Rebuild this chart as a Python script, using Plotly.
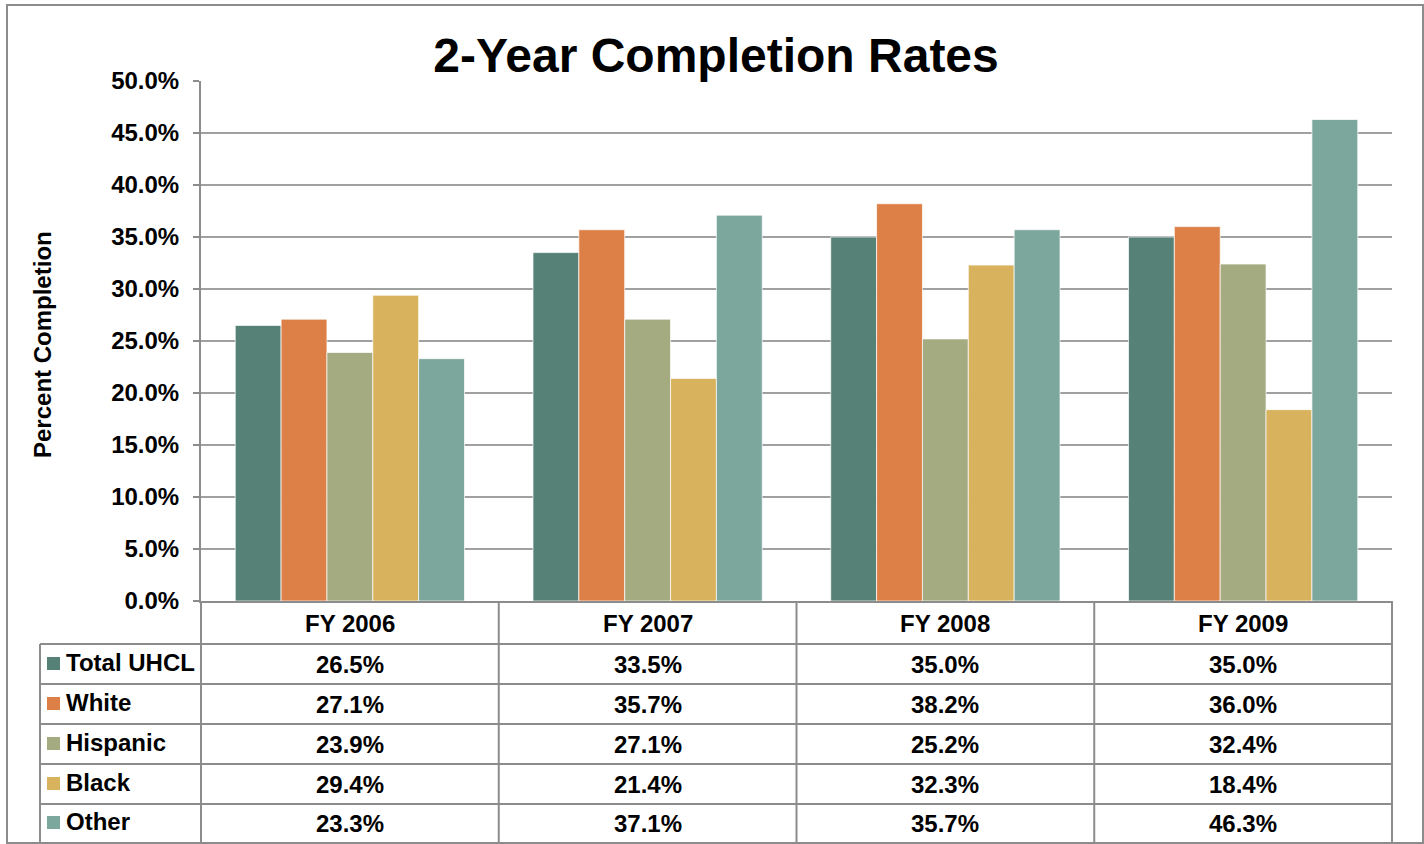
import plotly.graph_objects as go

# ---- data ----
categories = ["FY 2006", "FY 2007", "FY 2008", "FY 2009"]
series_names = ["Total UHCL", "White", "Hispanic", "Black", "Other"]
total_uhcl = [26.5, 33.5, 35.0, 35.0]
white = [27.1, 35.7, 38.2, 36.0]
hispanic = [23.9, 27.1, 25.2, 32.4]
black = [29.4, 21.4, 32.3, 18.4]
other = [23.3, 37.1, 35.7, 46.3]
series_values = [total_uhcl, white, hispanic, black, other]
colors = ["#568176", "#DD8047", "#A5AB81", "#D8B25C", "#7BA79D"]

# ---- layout geometry (pixels) ----
W, H = 1424, 844
PLOT_L, PLOT_R = 201, 1392
PLOT_T, PLOT_B = 81, 601
TABLE_L = 40
ROW_LINES = [644, 684, 724, 764, 804]
BOTTOM = 843
HEADER_CY = 623
ROW_CY = [664, 704, 744, 784, 823]
GRAY = "#8C8C8C"
GRID = "#A0A0A0"
FONT = "Liberation Sans, Arial, sans-serif"
FS = 24


def px(x):
    return x / W


def py(y):
    return 1 - y / H


fig = go.Figure()
for name, vals, col in zip(series_names, series_values, colors):
    fig.add_trace(go.Bar(
        x=categories, y=vals, name=name,
        marker=dict(color=col, line=dict(color="rgba(255,255,255,0.7)", width=1)),
        showlegend=False,
    ))

shapes = []
# outer border
shapes.append(dict(type="rect", xref="paper", yref="paper",
                   x0=px(7), x1=px(1423), y0=py(BOTTOM), y1=py(5),
                   line=dict(color=GRAY, width=2), layer="below"))
# horizontal table lines
for yl in ROW_LINES:
    shapes.append(dict(type="line", xref="paper", yref="paper",
                       x0=px(TABLE_L), x1=px(PLOT_R), y0=py(yl), y1=py(yl),
                       line=dict(color=GRAY, width=2)))
# left column vertical line
shapes.append(dict(type="line", xref="paper", yref="paper",
                   x0=px(TABLE_L), x1=px(TABLE_L), y0=py(ROW_LINES[0]), y1=py(BOTTOM),
                   line=dict(color=GRAY, width=2)))
# column boundaries
ncat = len(categories)
colw = (PLOT_R - PLOT_L) / ncat
for i in range(ncat + 1):
    xb = PLOT_L + i * colw
    shapes.append(dict(type="line", xref="paper", yref="paper",
                       x0=px(xb), x1=px(xb), y0=py(PLOT_B), y1=py(BOTTOM),
                       line=dict(color=GRAY, width=2)))
# legend swatches
for cy, col in zip(ROW_CY, colors):
    shapes.append(dict(type="rect", xref="paper", yref="paper",
                       x0=px(47), x1=px(60), y0=py(cy + 6), y1=py(cy - 7),
                       fillcolor=col, line=dict(width=0)))

annotations = []
# header labels
for c in categories:
    annotations.append(dict(x=c, y=py(HEADER_CY), xref="x", yref="paper",
                            text=c, showarrow=False, xanchor="center", yanchor="middle",
                            font=dict(family=FONT, size=FS, color="black", weight="bold")))
# rows
for cy, name, vals in zip(ROW_CY, series_names, series_values):
    annotations.append(dict(x=px(64), y=py(cy - 2), xref="paper", yref="paper",
                            text=name, showarrow=False, xanchor="left", yanchor="middle",
                            font=dict(family=FONT, size=FS, color="black", weight="bold")))
    for c, v in zip(categories, vals):
        annotations.append(dict(x=c, y=py(cy), xref="x", yref="paper",
                                text=f"{v:.1f}%", showarrow=False, xanchor="center", yanchor="middle",
                                font=dict(family=FONT, size=FS, color="black", weight="bold")))
# y axis title
annotations.append(dict(x=px(42), y=py(345), xref="paper", yref="paper",
                        text="Percent Completion", textangle=-90, showarrow=False,
                        xanchor="center", yanchor="middle",
                        font=dict(family=FONT, size=24, color="black", weight="bold")))

fig.update_layout(
    width=W, height=H,
    margin=dict(l=0, r=0, t=0, b=0, autoexpand=False),
    paper_bgcolor="white", plot_bgcolor="white",
    barmode="group", bargap=0.23, bargroupgap=0,
    title=dict(text="2-Year Completion Rates", x=px(716), xref="paper", xanchor="center",
               y=py(55), yref="paper", yanchor="middle", automargin=False,
               font=dict(family=FONT, size=48, color="black", weight="bold")),
    xaxis=dict(domain=[px(PLOT_L), px(PLOT_R)], showticklabels=False, showgrid=False,
               showline=True, linecolor=GRAY, linewidth=2, ticks="", automargin=False),
    yaxis=dict(domain=[py(PLOT_B), py(PLOT_T)], range=[0, 50], dtick=5,
               tickformat=".1f", ticksuffix="%", automargin=False,
               showgrid=True, gridcolor=GRID, gridwidth=2,
               showline=True, linecolor=GRAY, linewidth=2,
               ticks="outside", ticklen=6, tickwidth=2, tickcolor=GRAY,
               ticklabelstandoff=9, zeroline=False,
               tickfont=dict(family=FONT, size=FS, color="black", weight="bold")),
    shapes=shapes, annotations=annotations,
)

fig.write_html(
    "out.html",
    config={"displayModeBar": False},
    post_script="document.body.style.margin='0';document.body.style.overflow='hidden';",
)
